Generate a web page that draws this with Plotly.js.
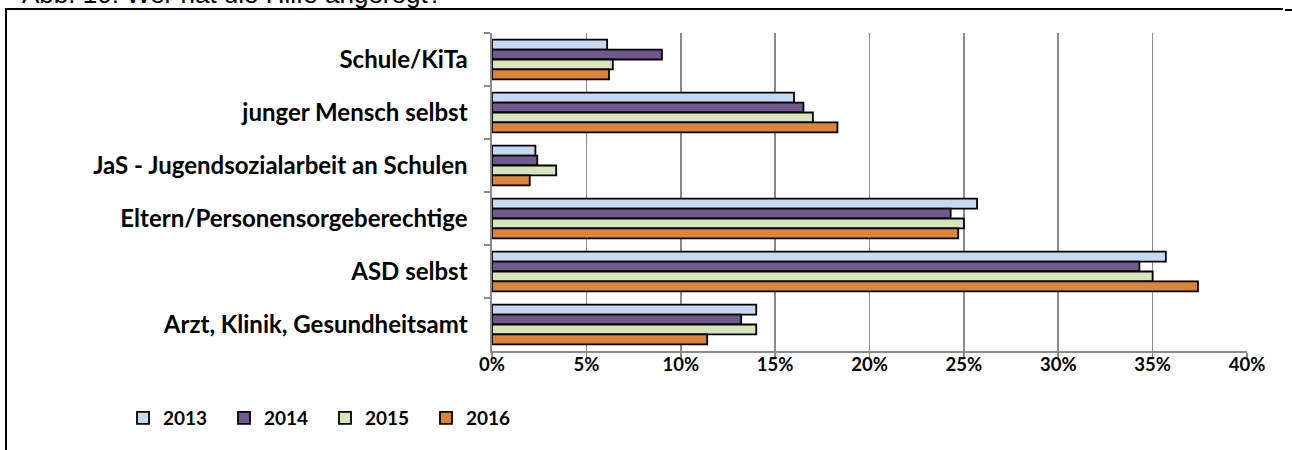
<!DOCTYPE html>
<html>
<head>
<meta charset="utf-8">
<script src="https://cdn.plot.ly/plotly-3.0.1.min.js"></script>
<style>
  html, body { margin: 0; padding: 0; background: #ffffff; }
  #chart { width: 1292px; height: 450px; }
</style>
</head>
<body>
<div id="chart"></div>
<script>
// Who initiated the help? Shares per year (percent)
const categories = [
  'Schule/KiTa',
  'junger Mensch selbst',
  'JaS - Jugendsozialarbeit an Schulen',
  'Eltern/Personensorgeberechtige',
  'ASD selbst',
  'Arzt, Klinik, Gesundheitsamt'
];
const years = ['2013', '2014', '2015', '2016'];
const values2013 = [6.1, 16.0, 2.3, 25.7, 35.7, 14.0];
const values2014 = [9.0, 16.5, 2.4, 24.3, 34.3, 13.2];
const values2015 = [6.4, 17.0, 3.4, 25.0, 35.0, 14.0];
const values2016 = [6.2, 18.3, 2.0, 24.7, 37.4, 11.4];
const xTickValues = [0, 5, 10, 15, 20, 25, 30, 35, 40];
const xTickLabels = ['0%', '5%', '10%', '15%', '20%', '25%', '30%', '35%', '40%'];

const seriesValues = [values2013, values2014, values2015, values2016];
const seriesColors = ['#c6d9f1', '#71588f', '#d8e4bc', '#dd843c'];

const FAMILY = 'Lato, "Open Sans", sans-serif';
const categoryFont = { family: FAMILY, size: 24, color: '#000000', weight: 'bold' };
const tickFont = { family: FAMILY, size: 18.5, color: '#000000', weight: 'bold' };

const traces = years.map((yr, i) => ({
  type: 'bar',
  orientation: 'h',
  name: yr,
  y: categories,
  x: seriesValues[i],
  marker: { color: seriesColors[i], line: { color: '#000000', width: 1.8 } },
  hoverinfo: 'x+name'
}));

// plot area in pixels: left 492, right 1247, top 33, bottom 351
const L = 492, R = 1247, T = 33, B = 351;
const px = X => (X - L) / (R - L);
const py = Y => (B - Y) / (B - T);

const layout = {
  width: 1292,
  height: 450,
  margin: { l: L, r: 1292 - R, t: T, b: 450 - B, pad: 0 },
  paper_bgcolor: '#ffffff',
  plot_bgcolor: '#ffffff',
  barmode: 'group',
  bargap: 0.25,
  bargroupgap: 0,
  font: { family: FAMILY, size: 18, color: '#000000' },
  showlegend: true,
  legend: {
    orientation: 'h',
    x: px(123), xanchor: 'left',
    y: py(418), yanchor: 'middle',
    font: { family: FAMILY, size: 19, color: '#000000', weight: 'bold' },
    traceorder: 'normal',
    entrywidth: 56,
    entrywidthmode: 'pixels',
    bgcolor: 'rgba(0,0,0,0)'
  },
  xaxis: {
    range: [0, 40],
    tickmode: 'array',
    tickvals: xTickValues,
    ticktext: xTickLabels,
    showgrid: true,
    gridcolor: '#8a8a8a',
    gridwidth: 1.6,
    zeroline: false,
    showline: true,
    linecolor: '#8a8a8a',
    linewidth: 1.6,
    ticks: 'outside',
    ticklen: 6,
    tickwidth: 1.6,
    tickcolor: '#8a8a8a',
    ticklabelstandoff: -10,
    tickfont: tickFont,
    fixedrange: true
  },
  yaxis: {
    type: 'category',
    autorange: 'reversed',
    showline: true,
    linecolor: '#8a8a8a',
    linewidth: 1.6,
    ticks: 'outside',
    tickson: 'boundaries',
    ticklen: 6,
    tickwidth: 1.6,
    tickcolor: '#8a8a8a',
    showgrid: false,
    ticklabelstandoff: 18,
    tickfont: categoryFont,
    fixedrange: true
  },
  annotations: [{
    xref: 'paper', yref: 'paper',
    x: px(20), y: py(11),
    xanchor: 'left', yanchor: 'bottom',
    showarrow: false,
    text: 'Abb. 10: Wer hat die Hilfe angeregt?',
    font: { family: '"Liberation Sans", Arial, sans-serif', size: 26, color: '#000000', weight: 'normal' }
  }],
  shapes: [
    // outer frame of the figure
    { type: 'line', xref: 'paper', yref: 'paper', x0: px(5), x1: px(1283), y0: py(9), y1: py(9),
      line: { color: '#000000', width: 2 } },
    { type: 'line', xref: 'paper', yref: 'paper', x0: px(1285), x1: px(1292), y0: py(10), y1: py(10),
      line: { color: '#000000', width: 2 } },
    { type: 'line', xref: 'paper', yref: 'paper', x0: px(6), x1: px(6), y0: py(8), y1: py(452),
      line: { color: '#000000', width: 2 } }
  ]
};

Plotly.newPlot('chart', traces, layout, { displayModeBar: false, staticPlot: true });
</script>
</body>
</html>
